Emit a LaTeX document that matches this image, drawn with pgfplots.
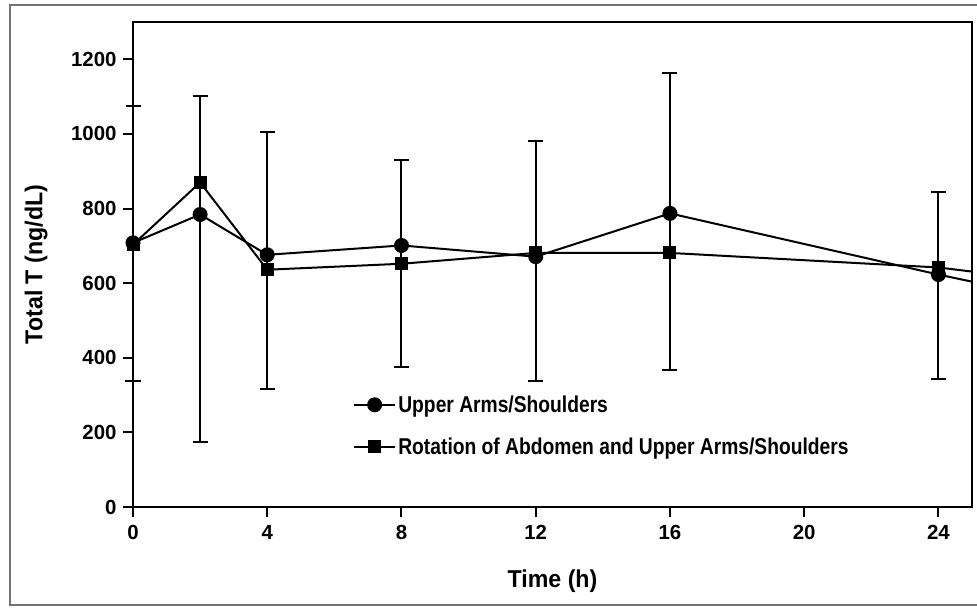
\documentclass[border=0pt]{standalone}
\usepackage{fontspec}
\setmainfont{Liberation Sans}
\newfontfamily\tickf[FakeStretch=1.0]{Liberation Sans}
\newfontfamily\legf[FakeStretch=0.84]{Liberation Sans}
\newfontfamily\labf[FakeStretch=0.95]{Liberation Sans}
\usepackage{pgfplots}
\pgfplotsset{compat=1.18}
\begin{document}
\begin{tikzpicture}
\useasboundingbox (0,0) rectangle (977bp,609bp);
\draw[line width=2bp, black!55] (10bp,4bp) rectangle (1000bp,604bp);
\begin{axis}[
  at={(133bp,102bp)}, anchor=south west, scale only axis,
  width=839bp, height=485bp,
  xmin=0, xmax=25, ymin=0, ymax=1300,
  clip=false,
  xtick={0,4,8,12,16,20,24}, ytick={0,200,400,600,800,1000,1200},
  tick align=outside, tick pos=left,
  major tick length=10bp,
  every tick/.style={black, line width=2bp},
  axis line style={line width=2bp, black},
  /pgf/number format/assume math mode=true,
  /pgf/number format/1000 sep={},
  ticklabel style={font=\tickf\bfseries\fontsize{20.5}{20.5}\selectfont},
  yticklabel style={xshift=-3bp},
  xticklabel style={yshift=-5bp},
  xlabel={Time (h)}, ylabel={Total T (ng/dL)},
  label style={font=\labf\bfseries\fontsize{24.5}{25}\selectfont},
  xlabel style={at={(axis description cs:0.5,-0.165)}, anchor=base},
  ylabel style={at={(axis description cs:-0.1156,0.5)}, anchor=center},
  legend style={draw=none, fill=none, at={(rel axis cs:0.2587,0.238)}, anchor=north west,
    font=\legf\bfseries\fontsize{23}{23}\selectfont, row sep=20bp,
    nodes={inner xsep=2bp}},
  legend cell align=left,
  legend image code/.code={\draw[mark repeat=2,mark phase=2] plot coordinates {(0cm,0cm)(0.72cm,0cm)(1.45cm,0cm)};},
]
\addplot[draw=none, forget plot,
  error bars/.cd, y dir=both, y explicit, error mark=|,
  error bar style={draw=black, line width=2bp},
  error mark options={draw=black, line width=2bp, mark size=7.5bp}]
  coordinates {
  (0,706.5) +- (0,368.5)
  (2,637.5) +- (0,463.5)
  (4,660.5) +- (0,343.5)
  (8,652) +- (0,278)
  (12,660) +- (0,321)
  (16,765) +- (0,397)
  (24,593.5) +- (0,249.5)
  };
\addplot[black, line width=2bp, forget plot] coordinates {(24,623) (25,604)};
\addplot[black, line width=2bp, forget plot] coordinates {(24,642) (25,631)};
\addplot[black, line width=2bp, mark=*, mark size=6.5bp, mark options={fill=black}]
  coordinates {(0,708) (2,784) (4,676) (8,701) (12,671) (16,787) (24,623)};
\addlegendentry{Upper Arms/Shoulders}
\addplot[black, line width=2bp, mark=square*, mark size=5.5bp, mark options={fill=black}]
  coordinates {(0,703) (2,870) (4,636) (8,652) (12,681) (16,681) (24,642)};
\addlegendentry{Rotation of Abdomen and Upper Arms/Shoulders}
\end{axis}
\end{tikzpicture}
\end{document}
